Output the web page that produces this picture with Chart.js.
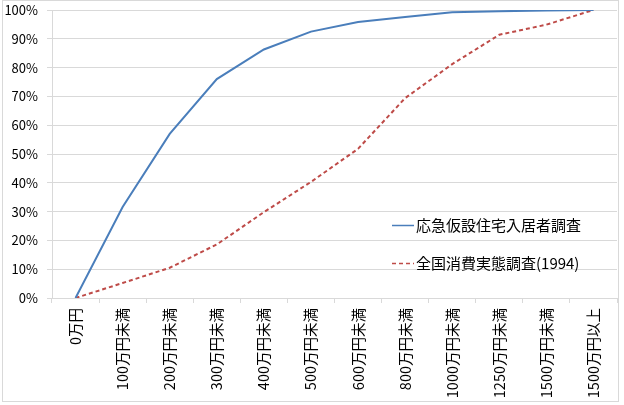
<!DOCTYPE html>
<html>
<head>
<meta charset="utf-8">
<script src="https://cdn.jsdelivr.net/npm/chart.js@4/dist/chart.umd.min.js"></script>
<style>
  html, body { margin: 0; padding: 0; background: #fff; }
  #wrap { width: 624px; height: 405px; }
</style>
</head>
<body>
<div id="wrap"><canvas id="chart" width="624" height="405"></canvas></div>
<script>
const categories = ['0万円', '100万円未満', '200万円未満', '300万円未満', '400万円未満', '500万円未満',
    '600万円未満', '800万円未満', '1000万円未満', '1250万円未満', '1500万円未満', '1500万円以上'];
const shelterSurvey = [0, 31.6, 57, 76, 86.3, 92.5, 95.8, 97.6, 99.2, 99.6, 99.8, 100];
const nationalSurvey = [0, 5.2, 10.5, 18.6, 29.8, 40.3, 51.8, 69.4, 81.2, 91.4, 94.9, 100];
const yTicks = [0, 10, 20, 30, 40, 50, 60, 70, 80, 90, 100];

const FONT = '"Noto Sans CJK JP", "Noto Sans", sans-serif';
const GRID = '#d9d9d9';

// outer frame like the spreadsheet chart border
const framePlugin = {
    id: 'frame',
    beforeDraw(chart) {
        const ctx = chart.ctx;
        ctx.save();
        ctx.strokeStyle = '#d9d9d9';
        ctx.lineWidth = 1;
        ctx.strokeRect(2.5, 0.5, 616, 401);
        ctx.restore();
    }
};

// legend sitting inside the plot, lower right
const legendPlugin = {
    id: 'insideLegend',
    afterDraw(chart) {
        const ctx = chart.ctx;
        const rows = [225, 263];
        ctx.save();
        chart.data.datasets.forEach((ds, i) => {
            const y = rows[i];
            ctx.strokeStyle = ds.borderColor;
            ctx.lineWidth = 1.5;
            ctx.setLineDash(ds.borderDash || []);
            ctx.beginPath();
            ctx.moveTo(392, y + 0.5);
            ctx.lineTo(414, y + 0.5);
            ctx.stroke();
            ctx.setLineDash([]);
            ctx.fillStyle = '#000';
            ctx.font = '15px ' + FONT;
            ctx.textBaseline = 'middle';
            ctx.fillText(ds.label, 416, y);
        });
        ctx.restore();
    }
};

new Chart(document.getElementById('chart'), {
    type: 'line',
    data: {
        labels: categories,
        datasets: [
            {
                label: '応急仮設住宅入居者調査',
                data: shelterSurvey,
                borderColor: '#4a7ebb',
                borderWidth: 2,
                pointRadius: 0,
                tension: 0
            },
            {
                label: '全国消費実態調査(1994)',
                data: nationalSurvey,
                borderColor: '#be4b48',
                borderWidth: 2,
                borderDash: [4, 3],
                pointRadius: 0,
                tension: 0
            }
        ]
    },
    options: {
        responsive: false,
        animation: false,
        layout: { padding: { left: 0, right: 7, top: 10, bottom: 0 } },
        plugins: {
            legend: { display: false },
            tooltip: { enabled: false }
        },
        scales: {
            x: {
                offset: true,
                grid: {
                    offset: true,
                    drawOnChartArea: false,
                    drawTicks: true,
                    tickLength: 5,
                    color: GRID
                },
                border: { color: GRID },
                ticks: {
                    minRotation: 90,
                    maxRotation: 90,
                    autoSkip: false,
                    color: '#000',
                    padding: 5,
                    font: { family: FONT, size: 14.5 }
                },
                afterFit(scale) { scale.height = 107; }
            },
            y: {
                min: 0,
                max: 100,
                afterBuildTicks(scale) {
                    scale.ticks = yTicks.map(v => ({ value: v }));
                },
                grid: {
                    color: GRID,
                    tickLength: 5
                },
                border: { color: GRID },
                ticks: {
                    color: '#000',
                    padding: 9,
                    font: { family: FONT, size: 13 },
                    callback: v => v + '%'
                },
                afterFit(scale) {
                    scale.width = 52;
                    scale.paddingTop = 0;
                    scale.paddingBottom = 0;
                }
            }
        }
    },
    plugins: [framePlugin, legendPlugin]
});
</script>
</body>
</html>
